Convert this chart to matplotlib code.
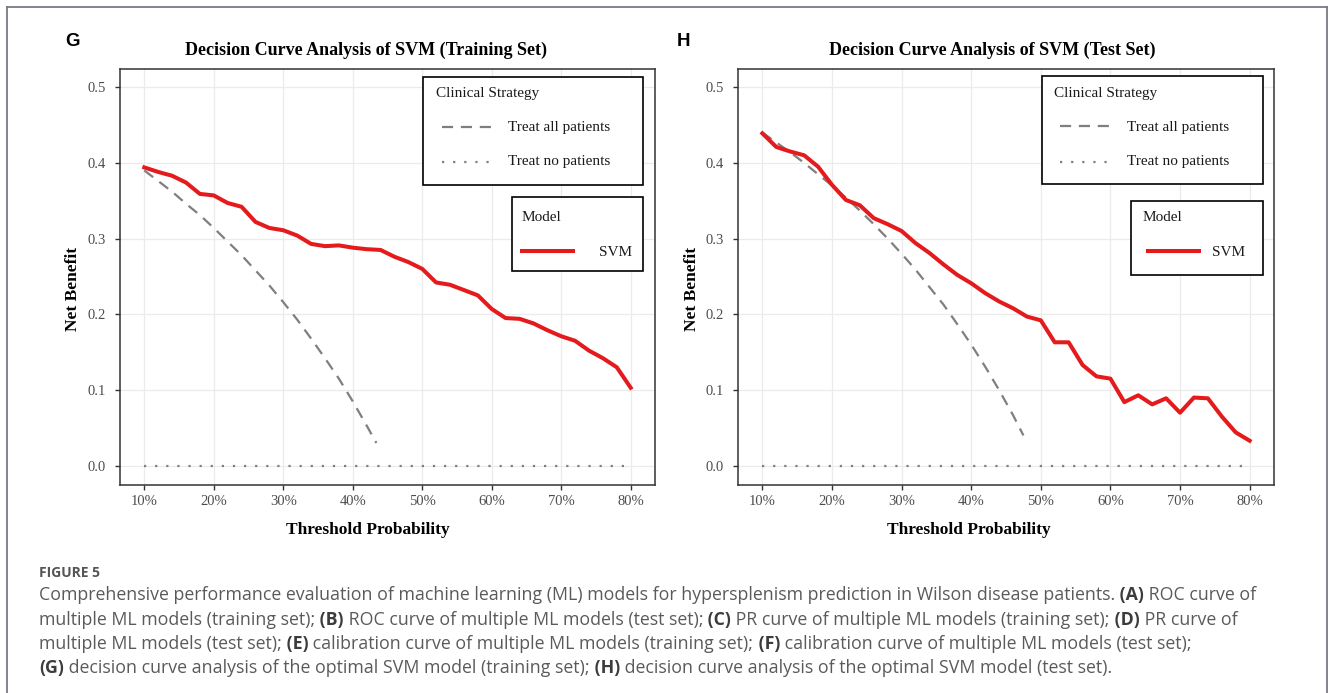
import numpy as np
import matplotlib
matplotlib.use('Agg')
import matplotlib.pyplot as plt
from matplotlib.lines import Line2D
from matplotlib.patches import Rectangle

# threshold grid (2% steps) and net benefit
thr = [0.10, 0.12, 0.14, 0.16, 0.18, 0.20, 0.22, 0.24, 0.26, 0.28, 0.30, 0.32,
       0.34, 0.36, 0.38, 0.40, 0.42, 0.44, 0.46, 0.48, 0.50, 0.52, 0.54, 0.56,
       0.58, 0.60, 0.62, 0.64, 0.66, 0.68, 0.70, 0.72, 0.74, 0.76, 0.78, 0.80]

svm_train = [0.394, 0.388, 0.383, 0.374, 0.359, 0.357, 0.347, 0.342, 0.322, 0.314,
             0.311, 0.304, 0.293, 0.290, 0.291, 0.288, 0.286, 0.285, 0.276, 0.269,
             0.260, 0.242, 0.239, 0.232, 0.225, 0.207, 0.195, 0.194, 0.188, 0.179,
             0.171, 0.165, 0.152, 0.142, 0.130, 0.103]

svm_test = [0.439, 0.421, 0.415, 0.410, 0.395, 0.371, 0.351, 0.344, 0.327, 0.319,
            0.310, 0.294, 0.281, 0.266, 0.252, 0.241, 0.228, 0.217, 0.208, 0.197,
            0.192, 0.163, 0.163, 0.133, 0.118, 0.115, 0.084, 0.093, 0.081, 0.089,
            0.070, 0.090, 0.089, 0.065, 0.044, 0.033]

all_train_x = [0.10, 0.12, 0.14, 0.16, 0.18, 0.20, 0.22, 0.24, 0.26, 0.28, 0.30,
               0.32, 0.34, 0.36, 0.38, 0.40, 0.42, 0.434]
all_train = [0.390, 0.376, 0.362, 0.346, 0.331, 0.314, 0.296, 0.278, 0.258, 0.238,
             0.216, 0.193, 0.168, 0.142, 0.115, 0.085, 0.053, 0.030]

all_test_x = [0.10, 0.12, 0.14, 0.16, 0.18, 0.20, 0.22, 0.24, 0.26, 0.28, 0.30,
              0.32, 0.34, 0.36, 0.38, 0.40, 0.42, 0.44, 0.46, 0.475]
all_test = [0.440, 0.427, 0.414, 0.400, 0.385, 0.370, 0.354, 0.337, 0.319, 0.300,
            0.280, 0.259, 0.236, 0.213, 0.187, 0.160, 0.131, 0.100, 0.067, 0.040]

none_x = [0.10, 0.80]
none_y = [0.0, 0.0]

xticks = [0.1, 0.2, 0.3, 0.4, 0.5, 0.6, 0.7, 0.8]
xticklabels = ['10%', '20%', '30%', '40%', '50%', '60%', '70%', '80%']
yticks = [0.0, 0.1, 0.2, 0.3, 0.4, 0.5]

W, H = 1330, 693
fig = plt.figure(figsize=(W / 100, H / 100), dpi=100)

def fx(x):
    return x / W

def fy(y):
    return 1 - y / H

serif = 'Liberation Serif'
red = '#E41A1C'
gray = '#7F7F7F'


def panel(x0, x1, svm, ax_x, ax_y, letter, letter_x, title, title_x, xlab_x, ylab_x, legs):
    ax = fig.add_axes([fx(x0), fy(485), fx(x1 - x0), (485 - 69) / H])
    ax.plot(none_x, none_y, color=gray, lw=1.6, linestyle=(0, (1, 4)))
    ax.plot(ax_x, ax_y, color=gray, lw=1.6, linestyle=(0, (5, 3.5)))
    ax.plot(thr, svm, color=red, lw=2.9, solid_joinstyle='round')
    ax.set_xlim(0.065, 0.835)
    ax.set_ylim(-0.0255, 0.524)
    ax.set_xticks(xticks)
    ax.set_xticklabels(xticklabels)
    ax.set_yticks(yticks)
    ax.set_yticklabels(['%.1f' % v for v in yticks])
    ax.grid(True, color='#EBEBEB', lw=0.9)
    ax.set_axisbelow(True)
    for s in ax.spines.values():
        s.set_color('#333333')
        s.set_linewidth(1.1)
    ax.tick_params(length=3.5, width=1, color='#333333', labelcolor='#4D4D4D',
                   labelsize=10.5)
    ax.tick_params(axis='y', pad=7)
    ax.tick_params(axis='x', pad=4)
    for lab in ax.get_xticklabels() + ax.get_yticklabels():
        lab.set_fontfamily(serif)

    fig.text(fx(letter_x), fy(41), letter, fontsize=13.5, fontweight='bold',
             family='Liberation Sans', ha='center', va='center')
    fig.text(fx(title_x), fy(50), title, fontsize=13, fontweight='bold',
             family=serif, ha='center', va='center')
    fig.text(fx(xlab_x), fy(530), 'Threshold Probability', fontsize=12.5,
             fontweight='bold', family=serif, ha='center', va='center')
    fig.text(fx(ylab_x), fy(289), 'Net Benefit', fontsize=12.5, fontweight='bold',
             family=serif, ha='center', va='center', rotation=90)

    # legends, drawn as boxes on top of the panel
    (cb, mb, cs_x, key_x0, key_x1, txt_x, yk1, yk2,
     mod_x, red_x0, red_x1, svm_x, ymod, ysvm) = legs
    for (bx0, bx1, by0, by1) in (cb, mb):
        fig.patches.append(Rectangle((fx(bx0), fy(by1)), fx(bx1 - bx0), (by1 - by0) / H,
                                     transform=fig.transFigure, facecolor='white',
                                     edgecolor='black', lw=1.2, zorder=5))
    tk = dict(fontsize=11, family=serif, color='#1A1A1A', va='center', ha='left', zorder=6)
    fig.text(fx(cs_x), fy(cb[2] + 17), 'Clinical Strategy', **tk)
    fig.lines.append(Line2D([fx(key_x0), fx(key_x1)], [fy(yk1), fy(yk1)],
                            transform=fig.transFigure, color=gray, lw=1.6,
                            linestyle=(0, (5, 3.5)), zorder=6))
    fig.lines.append(Line2D([fx(key_x0), fx(key_x1 - 3)], [fy(yk2), fy(yk2)],
                            transform=fig.transFigure, color=gray, lw=1.6,
                            linestyle=(0, (1, 4)), zorder=6))
    fig.text(fx(txt_x), fy(yk1 + 1), 'Treat all patients', **tk)
    fig.text(fx(txt_x), fy(yk2), 'Treat no patients', **tk)
    fig.text(fx(mod_x), fy(ymod), 'Model', **tk)
    fig.lines.append(Line2D([fx(red_x0), fx(red_x1)], [fy(ysvm), fy(ysvm)],
                            transform=fig.transFigure, color=red, lw=2.9, zorder=6))
    fig.text(fx(svm_x), fy(ysvm + 1), 'SVM', **tk)
    return ax


panel(120, 655, svm_train, all_train_x, all_train, 'G', 72,
      'Decision Curve Analysis of SVM (Training Set)', 366, 368, 73,
      ((423, 643, 77, 185), (512, 643, 197, 271), 436, 442, 494, 508, 127, 162,
       522, 522, 573, 599, 218, 251))
panel(738, 1274, svm_test, all_test_x, all_test, 'H', 683,
      'Decision Curve Analysis of SVM (Test Set)', 992, 969, 692,
      ((1042, 1263, 76, 184), (1131, 1263, 201, 275), 1054, 1060, 1113, 1127, 126, 162,
       1143, 1148, 1199, 1212, 218, 251))

# outer frame
fc = '#7A7A85'
for xs, ys in (([6.5, 6.5], [7, 693]), ([6.5, 1327], [7, 7]), ([1327, 1327], [7, 693])):
    fig.lines.append(Line2D([fx(v) for v in xs], [fy(v) for v in ys],
                            transform=fig.transFigure, color=fc, lw=1.3))

# caption
cap_font = 'Open Sans'
cap_size = 12.8
fig.text(fx(39), fy(573), 'FIGURE 5', fontsize=10, fontweight='bold', family=cap_font,
         color='#555555', va='center', ha='left')

caption = [
    [('Comprehensive performance evaluation of machine learning (ML) models for hypersplenism prediction in Wilson disease patients.', False),
     (' (A)', True), (' ROC curve of', False)],
    [('multiple ML models (training set);', False), (' (B)', True),
     (' ROC curve of multiple ML models (test set);', False), (' (C)', True),
     (' PR curve of multiple ML models (training set);', False), (' (D)', True),
     (' PR curve of', False)],
    [('multiple ML models (test set);', False), (' (E)', True),
     (' calibration curve of multiple ML models (training set);', False), (' (F)', True),
     (' calibration curve of multiple ML models (test set);', False)],
    [('(G)', True), (' decision curve analysis of the optimal SVM model (training set);', False),
     (' (H)', True), (' decision curve analysis of the optimal SVM model (test set).', False)],
]
line_y = [600, 625, 649, 673]

# place segments one after another, measuring each rendered width
r = fig.canvas.get_renderer()
for segs, yb in zip(caption, line_y):
    xcur = fx(39)
    for txt, bold in segs:
        t = fig.text(xcur, fy(yb), txt, fontsize=cap_size, family=cap_font,
                     fontweight='bold' if bold else 'normal',
                     color='#3C3C3C' if bold else '#5A5A5A', va='baseline', ha='left')
        bb = t.get_window_extent(r)
        xcur = bb.x1 / fig.bbox.width

fig.savefig('out.png', dpi=100)
